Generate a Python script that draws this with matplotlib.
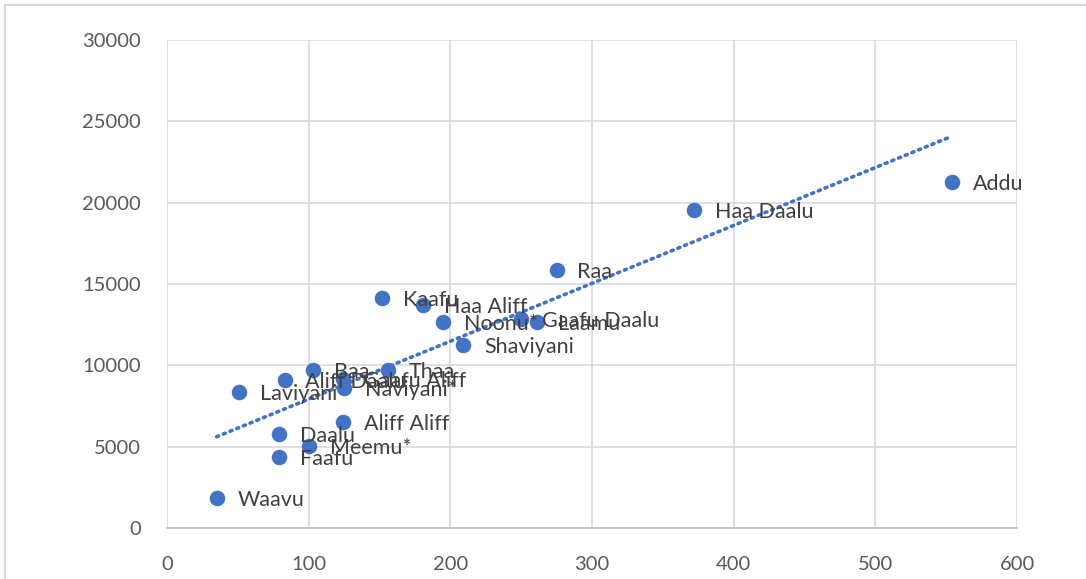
import matplotlib.pyplot as plt
from matplotlib.lines import Line2D
import numpy as np

# Datos
atolones = ["Waavu", "Faafu", "Daalu", "Meemu*", "Aliff Aliff", "Laviyani",
            "Aliff Daalu", "Baa", "Gaafu Aliff", "Naviyani*", "Thaa", "Kaafu",
            "Haa Aliff", "Noonu*", "Gaafu Daalu", "Laamu", "Shaviyani", "Raa",
            "Haa Daalu", "Addu"]
x_vals = [35, 79, 79, 100, 124, 51, 83, 103, 124, 125, 156, 152,
          181, 195, 250, 261, 209, 275, 372, 554]
y_vals = [1840, 4360, 5780, 5040, 6520, 8360, 9100, 9710, 9160, 8600, 9710, 14140,
          13710, 12660, 12850, 12660, 11250, 15860, 19550, 21270]

azul = "#4472C4"
gris_texto = "#595959"

plt.rcParams['font.family'] = ['Lato', 'DejaVu Sans']

fig = plt.figure(figsize=(10.86, 5.79), dpi=100)
ax = fig.add_axes([0.1538, 0.0881, 0.9365 - 0.1538, 0.9309 - 0.0881])

# Línea de tendencia lineal
m, b = np.polyfit(x_vals, y_vals, 1)
xs = np.array([min(x_vals), max(x_vals)])
ax.plot(xs, m * xs + b, linestyle=(0, (0.6, 1.4)), color=azul, linewidth=2.6,
        dash_capstyle='round', zorder=2)

ax.scatter(x_vals, y_vals, s=125, color=azul, zorder=3, linewidths=0)

for nombre, x, y in zip(atolones, x_vals, y_vals):
    ax.annotate(nombre, (x, y), xytext=(15, -1.5), textcoords="offset points",
                va="center", ha="left", fontsize=15.5, color="#404040", zorder=4)

ax.set_xlim(0, 600)
ax.set_ylim(0, 30000)
ax.set_xticks(range(0, 601, 100))
ax.set_yticks(range(0, 30001, 5000))
ax.grid(True, color="#d9d9d9", linewidth=1.2)
ax.set_axisbelow(True)
for lado in ["top", "right", "left"]:
    ax.spines[lado].set_visible(False)
ax.spines["bottom"].set_color("#bfbfbf")
ax.spines["bottom"].set_linewidth(1.2)
ax.tick_params(length=0, labelsize=14.5, labelcolor=gris_texto)
ax.tick_params(axis="x", pad=20)
ax.tick_params(axis="y", pad=19)

# Borde del área del gráfico
fig.add_artist(Line2D([5 / 1086, 5 / 1086], [0, 1 - 5 / 579], color="#d9d9d9", linewidth=1.5))
fig.add_artist(Line2D([5 / 1086, 1], [1 - 5 / 579, 1 - 5 / 579], color="#d9d9d9", linewidth=1.5))

fig.savefig("out.png", dpi=100)
